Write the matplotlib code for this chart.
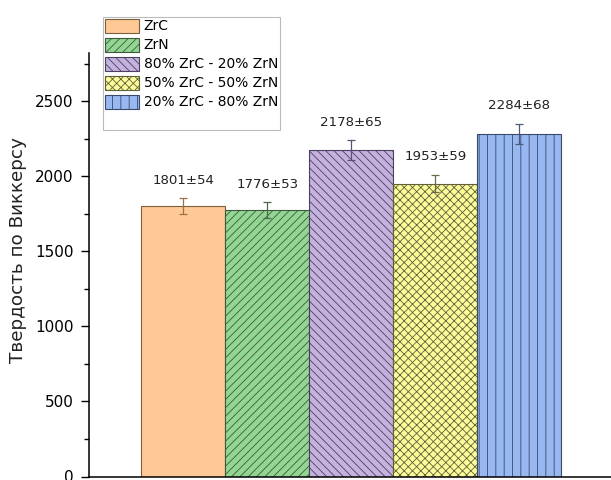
import numpy as np
import matplotlib
matplotlib.use('Agg')
import matplotlib.pyplot as plt
from matplotlib.patches import Patch
from matplotlib.ticker import MultipleLocator

plt.rcParams['font.family'] = ['DejaVu Sans']
plt.rcParams['hatch.linewidth'] = 0.6

labels = ['ZrC', 'ZrN', '80% ZrC - 20% ZrN', '50% ZrC - 50% ZrN', '20% ZrC - 80% ZrN']
hardness = [1801, 1776, 2178, 1953, 2284]
errors = [54, 53, 65, 59, 68]
ylabel = 'Твердость по Виккерсу'

colors = ['#fec994', '#93d593', '#c4b1de', '#fcfc9a', '#98b8f2']
edges = ['#7a6040', '#3d5a3d', '#4a4060', '#60603a', '#3a4a6a']
err_colors = ['#a07040', '#4a6a4a', '#5a5070', '#6a6a50', '#4a5a7a']
hatches = ['', '////', '\\\\\\\\', 'xxxx', '||']

fig = plt.figure(figsize=(6.11, 4.80), dpi=100)
ax = fig.add_axes([89/611, 3.5/480, 522/611, 423.5/480])

x = np.arange(len(hardness))
for i in range(len(hardness)):
    ax.bar(x[i], hardness[i], width=1.0, color=colors[i], edgecolor=edges[i],
           hatch=hatches[i], linewidth=0.8, label=labels[i], zorder=2)
    ax.errorbar(x[i], hardness[i], yerr=errors[i], fmt='none', ecolor=err_colors[i],
                elinewidth=0.9, capsize=3, capthick=0.9, zorder=3)
    ax.text(x[i], hardness[i] + errors[i] + 95, '%d±%d' % (hardness[i], errors[i]),
            ha='center', va='baseline', fontsize=9.6, color='#222222')

ax.set_xlim(-1.125, 5.09)
ax.set_ylim(0, 2823)
ax.yaxis.set_major_locator(MultipleLocator(500))
ax.yaxis.set_minor_locator(MultipleLocator(250))
ax.set_xticks([])
ax.tick_params(axis='y', which='major', length=6, width=1, labelsize=11,
               direction='out', pad=5)
ax.tick_params(axis='y', which='minor', length=3.5, width=1, direction='out')
for s in ['top', 'right']:
    ax.spines[s].set_visible(False)
for s in ['left', 'bottom']:
    ax.spines[s].set_linewidth(1.1)
ax.set_ylabel(ylabel, fontsize=13.2, color='#222222')
ax.yaxis.set_label_coords(-0.119, 0.535)

handles, lbls = ax.get_legend_handles_labels()
handles.append(Patch(facecolor='none', edgecolor='none'))
lbls.append(' ')
leg = fig.legend(handles, lbls, loc='upper left', bbox_to_anchor=(103/611, 1 - 17/480),
                 borderaxespad=0, fontsize=10, handlelength=2.45, handleheight=1.2,
                 labelspacing=0.3, handletextpad=0.36, borderpad=0.12,
                 frameon=True, fancybox=False)
leg.get_frame().set_edgecolor('#aaaaaa')
leg.get_frame().set_linewidth(0.8)

plt.savefig('out.png', dpi=100)
